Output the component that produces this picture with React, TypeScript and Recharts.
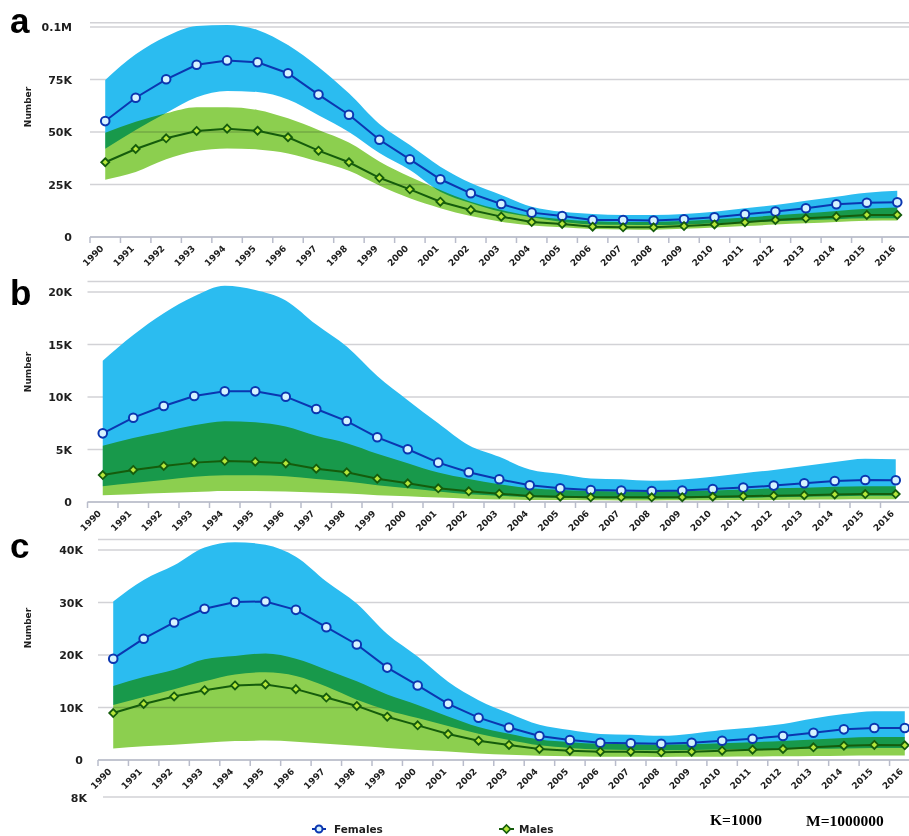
import { Area, CartesianGrid, ComposedChart, Line, XAxis, YAxis } from "recharts";

const years = [
  "1990", "1991", "1992", "1993", "1994", "1995", "1996", "1997", "1998",
  "1999", "2000", "2001", "2002", "2003", "2004", "2005", "2006", "2007",
  "2008", "2009", "2010", "2011", "2012", "2013", "2014", "2015", "2016",
];

// panel a
const aFemale = [55200, 66300, 75100, 82000, 84100, 83200, 78000, 67800, 58200, 46300, 37000, 27500, 20800, 15700, 11600, 10000, 8100, 8100, 7800, 8400, 9400, 10800, 12100, 13700, 15600, 16300, 16500];
const aFemaleHigh = [74800, 87000, 95500, 100500, 101000, 98600, 91400, 81000, 68400, 53800, 43800, 33500, 25700, 20000, 14400, 12000, 11000, 10500, 10500, 11000, 12000, 13700, 15200, 17300, 19200, 21100, 22000];
const aFemaleLow = [42000, 51000, 59000, 66500, 69500, 69000, 65500, 58000, 50000, 40000, 31900, 21600, 16200, 12000, 9400, 7200, 6000, 5800, 5700, 6000, 6600, 7000, 7500, 8000, 8500, 8900, 8900];
const aMale = [35600, 41900, 47000, 50500, 51600, 50600, 47500, 41100, 35600, 28200, 22700, 16800, 12900, 9700, 7100, 6200, 4900, 4600, 4600, 5200, 6000, 7000, 8100, 8900, 9700, 10500, 10500];
const aMaleHigh = [49700, 54900, 58900, 61800, 61800, 60500, 56500, 51000, 45000, 36000, 28700, 22400, 16800, 12900, 10000, 8500, 7500, 7200, 7200, 7600, 8400, 9300, 10300, 11300, 12400, 13500, 14100];
const aMaleLow = [27300, 31000, 37000, 41000, 42200, 41700, 39800, 35900, 31500, 24500, 18400, 13700, 10000, 7300, 5500, 4600, 3800, 3600, 3500, 3900, 4500, 5200, 5900, 6500, 7100, 7700, 7800];
const aTicks = [0, 25000, 50000, 75000, 100000];
const aTickLabels = ["0", "25K", "50K", "75K", "0.1M"];

// panel b
const bFemale = [6540, 8030, 9140, 10100, 10540, 10540, 10030, 8860, 7710, 6160, 5020, 3750, 2830, 2160, 1590, 1300, 1140, 1100, 1050, 1100, 1240, 1370, 1560, 1780, 2000, 2100, 2070];
const bFemaleHigh = [13460, 15900, 17970, 19600, 20600, 20200, 19200, 16900, 14800, 12000, 9700, 7500, 5400, 4300, 3100, 2670, 2250, 2170, 2030, 2150, 2410, 2730, 3050, 3430, 3810, 4120, 4080];
const bFemaleLow = [1500, 1800, 2100, 2400, 2550, 2550, 2450, 2200, 1950, 1600, 1300, 1000, 750, 600, 450, 400, 350, 330, 320, 330, 370, 400, 450, 500, 550, 600, 600];
const bMale = [2570, 3050, 3430, 3750, 3900, 3840, 3680, 3170, 2830, 2220, 1780, 1300, 1020, 790, 570, 500, 450, 450, 450, 460, 500, 550, 600, 650, 720, 760, 760];
const bMaleHigh = [5360, 6100, 6700, 7300, 7700, 7600, 7200, 6300, 5600, 4600, 3700, 2800, 2200, 1700, 1300, 1150, 1050, 1000, 1000, 1050, 1100, 1200, 1300, 1350, 1450, 1500, 1500];
const bMaleLow = [640, 750, 850, 950, 1050, 1050, 1000, 900, 800, 650, 550, 420, 320, 250, 200, 180, 160, 150, 150, 160, 170, 190, 200, 220, 240, 260, 260];
const bTicks = [0, 5000, 10000, 15000, 20000];
const bTickLabels = ["0", "5K", "10K", "15K", "20K"];

// panel c
const cFemale = [19300, 23100, 26200, 28800, 30100, 30200, 28600, 25300, 22000, 17600, 14200, 10700, 8060, 6200, 4570, 3800, 3300, 3200, 3100, 3300, 3680, 4060, 4570, 5200, 5840, 6100, 6100];
const cFemaleHigh = [30200, 34300, 37100, 40500, 41500, 41000, 38700, 34000, 29800, 24000, 19700, 14900, 11400, 8900, 6700, 5700, 4950, 4800, 4600, 5000, 5700, 6200, 6860, 7900, 8760, 9300, 9300];
const cFemaleLow = [10500, 12000, 13500, 15000, 16300, 16700, 16000, 14000, 11500, 9500, 8000, 6500, 5000, 3800, 2800, 2300, 2000, 1900, 1850, 1900, 2000, 2050, 2100, 2150, 2200, 2300, 2300];
const cMale = [8950, 10670, 12100, 13300, 14200, 14400, 13500, 11900, 10300, 8250, 6600, 4950, 3680, 2860, 2100, 1780, 1590, 1590, 1460, 1590, 1780, 1970, 2100, 2410, 2730, 2860, 2800];
const cMaleHigh = [14100, 15800, 17200, 19200, 19800, 20300, 19300, 17200, 15000, 12500, 10500, 8300, 6300, 5000, 3900, 3400, 3100, 3000, 2900, 3000, 3200, 3400, 3600, 3900, 4200, 4400, 4400];
const cMaleLow = [2200, 2600, 2900, 3300, 3600, 3700, 3500, 3100, 2700, 2300, 1900, 1600, 1250, 1000, 800, 700, 620, 600, 580, 600, 620, 660, 700, 750, 800, 850, 850];
const cTicks = [0, 10000, 20000, 30000, 40000];
const cTickLabels = ["0", "10K", "20K", "30K", "40K"];

const BLUE_BAND = "#2bbcf0";
const GREEN_BAND = "#8ccf4f";
const FEMALE_LINE = "#0b36b0";
const MALE_LINE = "#155c0c";
const GRID = "#d2d2d6";
const AXIS = "#b9bccb";
const TEXT = "#1e1e1e";
const SANS = "'DejaVu Sans', Verdana, sans-serif";

type Series = {
  female: number[];
  femaleHigh: number[];
  femaleLow: number[];
  male: number[];
  maleHigh: number[];
  maleLow: number[];
};

function buildRows(s: Series) {
  return years.map((year, i) => ({
    year,
    female: s.female[i],
    male: s.male[i],
    femaleBand: [s.femaleLow[i], s.femaleHigh[i]],
    maleBand: [s.maleLow[i], s.maleHigh[i]],
  }));
}

const FemaleDot = (p: any) => {
  if (p.cx == null || p.cy == null) return <g key={p.key} />;
  return (
    <circle key={p.key} cx={p.cx} cy={p.cy} r={4.3} fill="#d6f3ff" stroke={FEMALE_LINE} strokeWidth={2} />
  );
};

const MaleDot = (p: any) => {
  if (p.cx == null || p.cy == null) return <g key={p.key} />;
  const d = 4;
  const pts = `${p.cx},${p.cy - d} ${p.cx + d},${p.cy} ${p.cx},${p.cy + d} ${p.cx - d},${p.cy}`;
  return <polygon key={p.key} points={pts} fill="#b6e63a" stroke={MALE_LINE} strokeWidth={1.8} />;
};

type PanelProps = {
  series: Series;
  ticks: number[];
  tickLabels: string[];
  domainMax: number;
  top: number;
  height: number;
  plotTop: number;
  plotBottom: number;
  plotLeft: number;
  plotRight: number;
  labelRight: number;
};

const CHART_W = 930;

function Panel(props: PanelProps) {
  const { series, ticks, tickLabels, domainMax, top, height, plotTop, plotBottom, plotLeft, plotRight, labelRight } = props;
  const rows = buildRows(series);
  const step = (plotRight - plotLeft) / years.length;
  const axisY = plotBottom - top;
  const xAxisHeight = height - axisY;

  const YearTick = (t: any) => {
    const x = t.x as number;
    const lx = x - 1;
    const ly = axisY + 12;
    return (
      <g>
        <line x1={x - step / 2} y1={axisY} x2={x - step / 2} y2={axisY + 6} stroke={AXIS} strokeWidth={1.5} />
        <text
          x={lx}
          y={ly}
          transform={`rotate(-45 ${lx} ${ly})`}
          textAnchor="end"
          fontSize={9}
          fontWeight="bold"
          fontFamily={SANS}
          fill={TEXT}
        >
          {t.payload.value}
        </text>
      </g>
    );
  };

  const ValueTick = (t: any) => {
    const idx = ticks.indexOf(t.payload.value);
    return (
      <text
        x={labelRight}
        y={t.y}
        dy={4}
        textAnchor="end"
        fontSize={11}
        fontWeight="bold"
        fontFamily={SANS}
        fill={TEXT}
      >
        {tickLabels[idx]}
      </text>
    );
  };

  return (
    <div style={{ position: "absolute", left: 0, top, width: CHART_W, height }}>
      <ComposedChart
        width={CHART_W}
        height={height}
        data={rows}
        margin={{ top: plotTop - top, right: CHART_W - plotRight, bottom: 0, left: 0 }}
      >
        <CartesianGrid horizontal vertical={false} stroke={GRID} strokeWidth={1.5} />
        <XAxis
          dataKey="year"
          height={xAxisHeight}
          interval={0}
          padding={{ left: step / 2, right: step / 2 }}
          axisLine={{ stroke: AXIS, strokeWidth: 1.5 }}
          tickLine={false}
          tick={YearTick}
        />
        <YAxis
          width={plotLeft}
          domain={[0, domainMax]}
          ticks={ticks}
          axisLine={false}
          tickLine={false}
          tick={ValueTick}
        />
        <Area
          dataKey="femaleBand"
          type="monotone"
          fill={BLUE_BAND}
          fillOpacity={1}
          stroke="none"
          isAnimationActive={false}
          activeDot={false}
        />
        <Area
          className="male-band"
          dataKey="maleBand"
          type="monotone"
          fill={GREEN_BAND}
          fillOpacity={1}
          stroke="none"
          isAnimationActive={false}
          activeDot={false}
        />
        <Line
          dataKey="female"
          type="linear"
          stroke={FEMALE_LINE}
          strokeWidth={2}
          dot={FemaleDot}
          activeDot={false}
          isAnimationActive={false}
        />
        <Line
          dataKey="male"
          type="linear"
          stroke={MALE_LINE}
          strokeWidth={2}
          dot={MaleDot}
          activeDot={false}
          isAnimationActive={false}
        />
      </ComposedChart>
    </div>
  );
}

function Annotations() {
  const numberLabel = (cy: number) => (
    <text
      x={31}
      y={cy}
      transform={`rotate(-90 31 ${cy})`}
      textAnchor="middle"
      fontSize={9}
      fontWeight="bold"
      fontFamily={SANS}
      fill={TEXT}
    >
      Number
    </text>
  );
  const letter = (ch: string, y: number) => (
    <text x={10} y={y} fontSize={35} fontWeight="bold" fontFamily="'Liberation Sans', Arial, sans-serif" fill="#000">
      {ch}
    </text>
  );
  return (
    <svg width={909} height={836} style={{ position: "absolute", left: 0, top: 0, pointerEvents: "none" }}>
      {letter("a", 33)}
      {letter("b", 305)}
      {letter("c", 558)}
      {numberLabel(107)}
      {numberLabel(372)}
      {numberLabel(628)}

      <line x1={103} y1={797} x2={909} y2={797} stroke={GRID} strokeWidth={1.5} />
      <text x={87} y={802} textAnchor="end" fontSize={11} fontWeight="bold" fontFamily={SANS} fill={TEXT}>
        8K
      </text>

      <line x1={312} y1={829} x2={326} y2={829} stroke={FEMALE_LINE} strokeWidth={2} />
      <circle cx={319} cy={829} r={3.5} fill="#d6f3ff" stroke={FEMALE_LINE} strokeWidth={2} />
      <text x={334} y={833} fontSize={10.5} fontWeight="bold" fontFamily={SANS} fill={TEXT}>
        Females
      </text>

      <line x1={499} y1={829} x2={514} y2={829} stroke={MALE_LINE} strokeWidth={2} />
      <polygon points="506.5,825 510.5,829 506.5,833 502.5,829" fill="#b6e63a" stroke={MALE_LINE} strokeWidth={1.6} />
      <text x={519} y={833} fontSize={10.5} fontWeight="bold" fontFamily={SANS} fill={TEXT}>
        Males
      </text>

      <text x={710} y={825} fontSize={15.5} fontWeight="bold" fontFamily="'Liberation Serif', 'Times New Roman', serif" fill="#000">
        K=1000
      </text>
      <text x={806} y={826} fontSize={15.5} fontWeight="bold" fontFamily="'Liberation Serif', 'Times New Roman', serif" fill="#000">
        M=1000000
      </text>
    </svg>
  );
}

const seriesA: Series = { female: aFemale, femaleHigh: aFemaleHigh, femaleLow: aFemaleLow, male: aMale, maleHigh: aMaleHigh, maleLow: aMaleLow };
const seriesB: Series = { female: bFemale, femaleHigh: bFemaleHigh, femaleLow: bFemaleLow, male: bMale, maleHigh: bMaleHigh, maleLow: bMaleLow };
const seriesC: Series = { female: cFemale, femaleHigh: cFemaleHigh, femaleLow: cFemaleLow, male: cMale, maleHigh: cMaleHigh, maleLow: cMaleLow };

export default function App() {
  return (
    <div
      style={{
        position: "absolute",
        left: 0,
        top: 0,
        width: 909,
        height: 836,
        overflow: "hidden",
        background: "#fff",
      }}
    >
      {/* the male band is multiplied over the female one so their overlap reads dark green */}
      <style>{`.male-band path { mix-blend-mode: multiply; }`}</style>
      <Panel
        series={seriesA}
        ticks={aTicks}
        tickLabels={aTickLabels}
        domainMax={102000}
        top={0}
        height={275}
        plotTop={22.8}
        plotBottom={237}
        plotLeft={90}
        plotRight={912.5}
        labelRight={72}
      />
      <Panel
        series={seriesB}
        ticks={bTicks}
        tickLabels={bTickLabels}
        domainMax={21000}
        top={268}
        height={268}
        plotTop={281.5}
        plotBottom={502}
        plotLeft={87.5}
        plotRight={911}
        labelRight={72}
      />
      <Panel
        series={seriesC}
        ticks={cTicks}
        tickLabels={cTickLabels}
        domainMax={42000}
        top={528}
        height={264}
        plotTop={539.5}
        plotBottom={760}
        plotLeft={98}
        plotRight={920}
        labelRight={83}
      />
      <Annotations />
    </div>
  );
}
